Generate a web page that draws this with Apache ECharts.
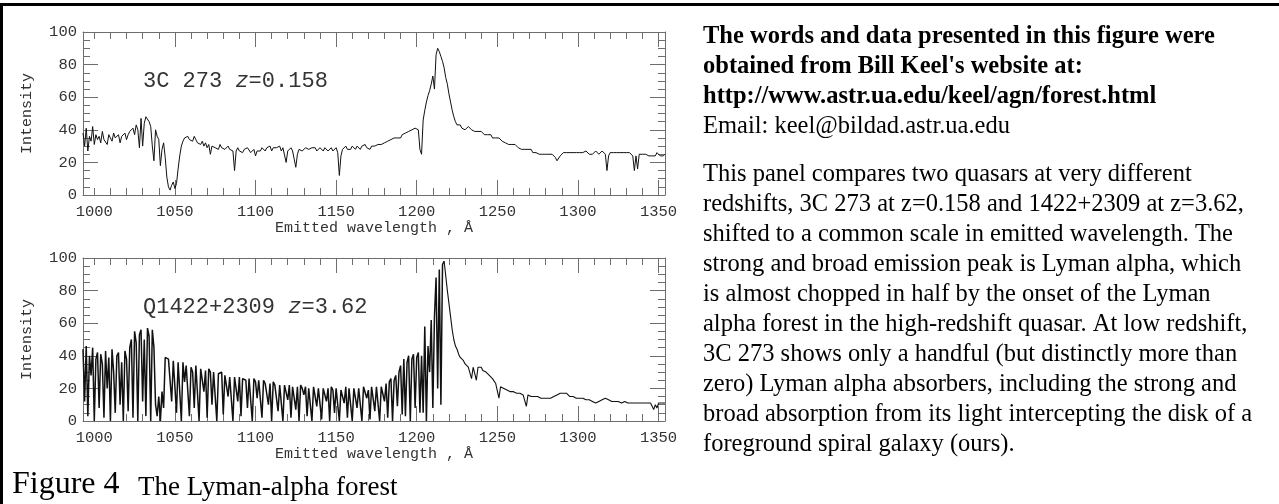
<!DOCTYPE html>
<html>
<head>
<meta charset="utf-8">
<script src="https://cdn.jsdelivr.net/npm/echarts@6.0.0/dist/echarts.min.js"></script>
<style>
  html, body { margin: 0; padding: 0; background: #fff; }
  #chart { width: 1279px; height: 504px; }
</style>
</head>
<body>
<div id="chart"></div>
<script>
// ---- data ----
const waveStart = 993;   // first sampled wavelength (Å)
const waveStep = 1;      // sampling step (Å)

// 3C 273, z = 0.158 (intensity per 1 Å from 993 Å)
const lowZIntensity = [
  38,30,41,27,36,33,42,31,37,34,
  36,32,39,34,35,31,37,36,33,38,
  35,34,37,32,36,35,38,34,37,39,
  38,41,37,43,40,29,47,30,44,48,
  49,45,42,30,21,40,36,34,18,28,
  32,23,11,5,3,6,8,4,7,16,
  24,30,33,35,34,36,34,35,33,36,
  34,32,33,31,33,30,32,29,31,25,
  30,31,29,30,28,31,29,30,28,29,
  30,28,29,27,15,27,29,27,28,26,
  28,27,29,28,26,27,28,24,27,28,
  27,29,28,27,29,28,30,27,29,28,
  29,28,30,27,29,28,20,27,28,29,
  27,22,17,25,28,29,27,28,29,28,
  28,27,29,28,29,27,28,29,28,27,
  29,28,27,28,29,27,28,29,26,12,
  24,28,29,30,28,29,28,30,29,28,
  30,29,28,30,29,31,29,30,28,30,
  31,30,29,31,30,31,30,32,31,33,
  32,34,33,35,34,35,36,35,37,36,
  38,37,39,38,40,39,41,42,40,28,
  25,46,52,57,61,64,68,73,65,86,
  90,88,85,82,78,72,68,62,57,52,
  48,45,43,42,43,41,42,40,41,42,
  41,40,41,39,40,39,38,39,38,37,
  38,37,36,37,35,36,35,34,35,34,
  33,34,32,33,31,32,31,30,31,30,
  29,30,28,29,28,27,28,27,28,26,
  27,26,27,25,26,25,26,25,24,25,
  24,25,24,23,21,22,24,25,26,25,
  26,25,26,27,26,25,26,27,26,25,
  26,25,27,26,25,26,25,26,27,26,
  25,26,27,26,25,15,24,26,25,26,
  25,26,27,26,25,26,25,26,25,26,
  25,24,15,24,16,25,26,25,24,25,
  25,24,25,24,25,24,26,25,24,25,
  24,25
];

// Q1422+2309, z = 3.62 (intensity per 1 Å from 993 Å)
const highZIntensity = [
  44,12,46,3,40,28,45,0,38,42,
  8,41,35,2,43,20,39,0,44,30,
  5,40,42,10,36,0,43,38,6,45,
  50,2,55,48,0,53,56,12,50,3,
  57,52,0,56,45,10,3,15,0,18,
  8,39,40,38,39,12,37,38,5,36,
  35,0,36,24,34,35,3,33,30,8,
  34,33,0,32,33,18,31,2,32,30,
  10,30,31,0,29,28,30,4,28,29,
  15,27,28,0,27,26,12,27,3,26,
  27,25,8,26,25,0,26,24,14,25,
  24,2,25,23,24,10,23,0,24,22,
  23,6,22,23,0,22,21,13,22,2,
  21,22,7,21,0,22,20,16,21,3,
  20,21,0,21,20,9,20,21,1,20,
  19,12,20,0,21,19,5,20,21,0,
  19,20,11,21,2,20,19,0,20,21,
  8,20,19,0,21,20,14,19,1,21,
  20,6,21,22,0,21,22,12,23,2,
  24,26,0,25,28,9,30,34,4,38,
  3,36,40,0,38,41,8,39,42,5,
  40,5,58,0,46,30,62,8,64,88,
  20,93,10,96,98,89,80,72,64,56,
  50,46,44,41,39,38,37,35,34,33,
  33,26,33,32,25,33,32,33,31,31,
  30,29,28,27,26,25,23,22,14,21,
  21,20,20,19,19,18,18,18,17,17,
  18,17,16,16,16,9,16,15,15,15,
  15,15,15,14,14,14,14,14,14,15,
  14,15,15,15,16,16,17,16,17,16,
  17,16,15,16,15,15,14,14,14,14,
  14,13,13,13,13,12,12,12,11,12,
  12,13,13,13,14,13,13,13,12,13,
  12,12,12,12,11,11,12,11,11,11,
  11,11,11,11,11,10,11,11,11,11,
  11,11,11,10,7,10,8,11,10,11,
  11,11
];
const forestEndWave = 1217;  // end of the Lyman-alpha forest part (drawn bolder)

const xLabelValues = [1000, 1050, 1100, 1150, 1200, 1250, 1300, 1350];
const xMajorTicks  = [1050, 1100, 1150, 1200, 1250, 1300, 1350];
const xMinorTicks  = [1000,1010,1020,1030,1040,1050,1060,1070,1080,1090,
                      1100,1110,1120,1130,1140,1150,1160,1170,1180,1190,
                      1200,1210,1220,1230,1240,1250,1260,1270,1280,1290,
                      1300,1310,1320,1330,1340,1350];
const xRange = [993, 1354];
const yRange = [0, 100];
const yStep = 20;

const xAxisName = 'Emitted wavelength , Å';
const yAxisName = 'Intensity';
const panelLabels = [
  { name: '3C 273 ', z: 'z', rest: '=0.158' },
  { name: 'Q1422+2309 ', z: 'z', rest: '=3.62' }
];

const headerBold = "The words and data presented in this figure were\nobtained from Bill Keel's website at:\nhttp://www.astr.ua.edu/keel/agn/forest.html";
const headerEmail = "Email: keel@bildad.astr.ua.edu";
const paragraph = [
  "This panel compares two quasars at very different",
  "redshifts, 3C 273 at z=0.158 and 1422+2309 at z=3.62,",
  "shifted to a common scale in emitted wavelength. The",
  "strong and broad emission peak is Lyman alpha, which",
  "is almost chopped in half by the onset of the Lyman",
  "alpha forest in the high-redshift quasar. At low redshift,",
  "3C 273 shows only a handful (but distinctly more than",
  "zero) Lyman alpha absorbers, including the strong and",
  "broad absorption from its light intercepting the disk of a",
  "foreground spiral galaxy (ours)."
];
const captionNum = "Figure 4";
const captionText = "The Lyman-alpha forest";

// ---- build ----
const MONO = "'Liberation Mono', 'DejaVu Sans Mono', monospace";
const SERIF = "'Liberation Serif', 'DejaVu Serif', serif";
const AX = '#6e6e6e';
const LBL = '#333';

const grids = [
  { left: 83, top: 32, width: 582, height: 163 },
  { left: 83, top: 258, width: 582, height: 163 }
];

function toPairs(arr) {
  return arr.map((v, i) => [waveStart + i * waveStep, v]);
}
const plainNum = v => String(v);

const xAxes = [];
const yAxes = [];
grids.forEach((g, gi) => {
  const base = { gridIndex: gi, type: 'value', min: xRange[0], max: xRange[1], splitLine: { show: false } };
  xAxes.push(Object.assign({}, base, {
    position: 'bottom',
    axisLine: { show: true, onZero: false, lineStyle: { color: AX, width: 1 } },
    axisTick: { show: true, inside: true, length: 15, customValues: xMajorTicks, lineStyle: { color: AX } },
    axisLabel: { show: true, customValues: xLabelValues, formatter: plainNum, margin: 9, fontFamily: MONO, fontSize: 15.5, color: LBL },
    name: xAxisName, nameLocation: 'middle', nameGap: 24,
    nameTextStyle: { fontFamily: MONO, fontSize: 15, color: LBL }
  }));
  xAxes.push(Object.assign({}, base, {
    position: 'bottom',
    axisLine: { show: false, onZero: false },
    axisTick: { show: true, inside: true, length: 7, customValues: xMinorTicks, lineStyle: { color: AX } },
    axisLabel: { show: false }
  }));
  xAxes.push(Object.assign({}, base, {
    position: 'top',
    axisLine: { show: true, onZero: false, lineStyle: { color: AX, width: 1 } },
    axisTick: { show: true, inside: true, length: 15, customValues: xMajorTicks, lineStyle: { color: AX } },
    axisLabel: { show: false }
  }));
  xAxes.push(Object.assign({}, base, {
    position: 'top',
    axisLine: { show: false, onZero: false },
    axisTick: { show: true, inside: true, length: 7, customValues: xMinorTicks, lineStyle: { color: AX } },
    axisLabel: { show: false }
  }));
  const ybase = { gridIndex: gi, type: 'value', min: yRange[0], max: yRange[1], interval: yStep, splitLine: { show: false },
    minorTick: { show: true, splitNumber: 4, length: 7, lineStyle: { color: AX } } };
  yAxes.push(Object.assign({}, ybase, {
    position: 'left',
    axisLine: { show: true, onZero: false, lineStyle: { color: AX, width: 1 } },
    axisTick: { show: true, inside: true, length: 15, lineStyle: { color: AX } },
    axisLabel: { show: true, margin: 6, formatter: plainNum, fontFamily: MONO, fontSize: 15.5, color: LBL },
    name: yAxisName, nameLocation: 'middle', nameGap: 48, nameRotate: 90,
    nameTextStyle: { fontFamily: MONO, fontSize: 15, color: LBL }
  }));
  yAxes.push(Object.assign({}, ybase, {
    position: 'right',
    axisLine: { show: true, onZero: false, lineStyle: { color: AX, width: 1 } },
    axisTick: { show: true, inside: true, length: 15, lineStyle: { color: AX } },
    axisLabel: { show: false }
  }));
});

function lineSeries(data, gi, width) {
  return {
    type: 'line',
    xAxisIndex: gi * 4,
    yAxisIndex: gi * 2,
    data: data,
    showSymbol: false,
    symbol: 'none',
    sampling: null,
    lineStyle: { color: '#111', width: width },
    silent: true,
    animation: false
  };
}
const lowPairs = toPairs(lowZIntensity);
const highPairs = toPairs(highZIntensity);
const forestPart = highPairs.filter(p => p[0] <= forestEndWave);
const tailPart = highPairs.filter(p => p[0] >= forestEndWave);
const series = [
  lineSeries(lowPairs, 0, 1),
  lineSeries(forestPart, 1, 1.5),
  lineSeries(tailPart, 1, 1.1)
];

const graphics = [
  { type: 'rect', shape: { x: 0, y: 3, width: 1279, height: 3 }, style: { fill: '#000' } },
  { type: 'rect', shape: { x: 0, y: 3, width: 3, height: 501 }, style: { fill: '#000' } }
];
panelLabels.forEach((p, gi) => {
  graphics.push({
    type: 'text', x: 143, y: grids[gi].top + 49,
    style: {
      text: '{n|' + p.name + '}{i|' + p.z + '}{n|' + p.rest + '}',
      verticalAlign: 'middle',
      rich: {
        n: { fontFamily: MONO, fontSize: 22, fill: LBL, color: LBL },
        i: { fontFamily: MONO, fontSize: 22, fontStyle: 'italic', fill: LBL, color: LBL }
      }
    }
  });
});
graphics.push({ type: 'text', x: 703, y: 22, style: { text: headerBold, fontFamily: SERIF, fontSize: 24.5, fontWeight: 'bold', lineHeight: 30, fill: '#000' } });
graphics.push({ type: 'text', x: 703, y: 112, style: { text: headerEmail, fontFamily: SERIF, fontSize: 24.5, lineHeight: 30, fill: '#000' } });
graphics.push({ type: 'text', x: 703, y: 160, style: { text: paragraph.join('\n'), fontFamily: SERIF, fontSize: 24.5, lineHeight: 30, fill: '#000' } });
graphics.push({ type: 'text', x: 12, y: 485, style: { text: captionNum, fontFamily: SERIF, fontSize: 32, verticalAlign: 'middle', fill: '#000' } });
graphics.push({ type: 'text', x: 138, y: 487.5, style: { text: captionText, fontFamily: SERIF, fontSize: 27, verticalAlign: 'middle', fill: '#000' } });

const chart = echarts.init(document.getElementById('chart'), null, { renderer: 'canvas' });
chart.setOption({
  backgroundColor: '#fff',
  animation: false,
  grid: grids,
  xAxis: xAxes,
  yAxis: yAxes,
  series: series,
  graphic: graphics
});
</script>
</body>
</html>
